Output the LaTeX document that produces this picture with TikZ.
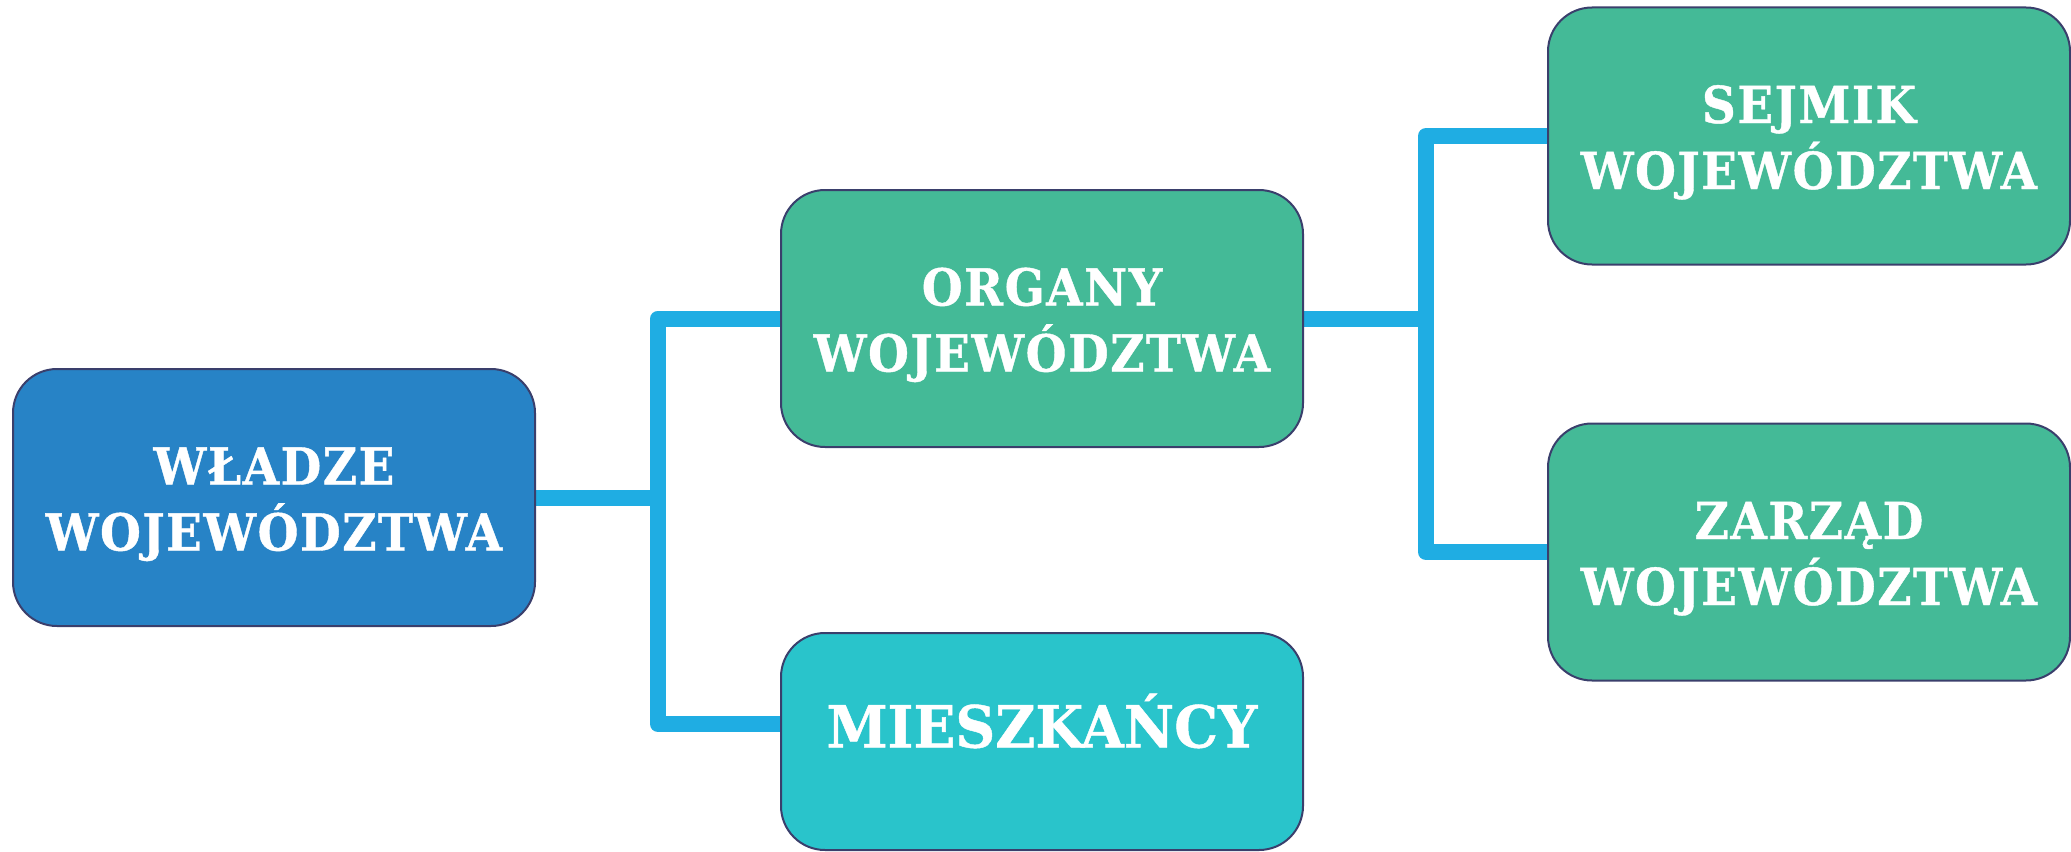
\documentclass[tikz,border=0pt]{standalone}
\usepackage{fontspec}
\setmainfont{DejaVu Serif}
\newfontfamily\boxfont[LetterSpace=3, FakeStretch=0.92, FakeBold=0.8]{DejaVu Serif}
\newfontfamily\bigboxfont[LetterSpace=0, FakeStretch=0.95, FakeBold=0.8]{DejaVu Serif}
\usetikzlibrary{backgrounds}
\definecolor{bluebox}{HTML}{2783C6}
\definecolor{greenbox}{HTML}{44BA97}
\definecolor{cyanbox}{HTML}{29C4CB}
\definecolor{edgecol}{HTML}{3A3F6C}
\definecolor{conncol}{HTML}{1FADE3}
\tikzset{
  box/.style={draw=edgecol, line width=2pt, rounded corners=44pt, inner sep=0pt,
    minimum width=522pt, minimum height=257pt, align=center, text=white,
    text height=106pt, text depth=0pt,
    font=\boxfont\bfseries\fontsize{51}{66}\selectfont},
  conn/.style={draw=conncol, line width=16pt, line join=round}
}
\begin{document}
\begin{tikzpicture}[x=1pt,y=-1pt]
\useasboundingbox (0,0) rectangle (2071,851);
\node[box, fill=bluebox] (wl) at (274,497.5) {WŁADZE\\WOJEWÓDZTWA};
\node[box, fill=greenbox] (org) at (1042,318.5) {ORGANY\\WOJEWÓDZTWA};
\node[box, fill=cyanbox, minimum height=217pt, text height=12pt, text depth=0pt,
  font=\bigboxfont\bfseries\fontsize{58}{66}\selectfont] (mie) at (1042,741.5) {MIESZKAŃCY};
\node[box, fill=greenbox] (sej) at (1809,136) {SEJMIK\\WOJEWÓDZTWA};
\node[box, fill=greenbox] (zar) at (1809,552) {ZARZĄD\\WOJEWÓDZTWA};
\coordinate (j1) at (658,497.5);
\coordinate (j2) at (1426,318.5);
\begin{pgfonlayer}{background}
\draw[conn] (wl.east) -- (j1);
\draw[conn] (org.west) -| (j1) |- ([yshift=17.5pt]mie.west);
\draw[conn] (org.east) -- (j2);
\draw[conn] (sej.west) -| (j2) |- (zar.west);
\end{pgfonlayer}
\end{tikzpicture}
\end{document}
